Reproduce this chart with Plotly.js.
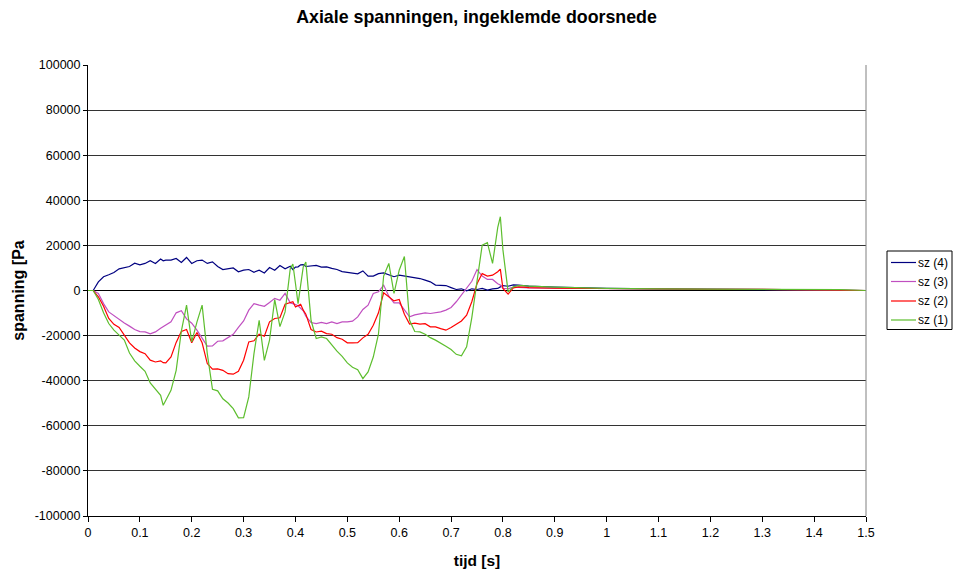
<!DOCTYPE html>
<html>
<head>
<meta charset="utf-8">
<script src="https://cdn.plot.ly/plotly-3.0.1.min.js"></script>
<style>html,body{margin:0;padding:0;background:#fff;}#chart{width:953px;height:573px;}</style>
</head>
<body>
<div id="chart"></div>
<script>
const tijd = [0,0.01,0.02,0.03,0.04,0.05,0.06,0.07,0.08,0.09,0.10,0.11,0.12,0.13,0.14,0.145,0.15,0.16,0.17,0.18,0.19,0.20,0.21,0.22,0.23,0.24,0.25,
  0.26,0.27,0.28,0.29,0.30,0.31,0.32,0.33,0.34,0.35,0.36,0.37,0.38,0.39,0.395,0.40,0.405,0.41,0.415,0.42,0.43,0.44,0.45,0.46,0.47,0.48,0.49,0.50,
  0.51,0.52,0.53,0.54,0.55,0.56,0.57,0.58,0.59,0.60,0.61,0.62,0.63,0.64,0.65,0.66,0.67,0.68,0.69,0.70,0.71,0.72,0.73,0.74,0.75,
  0.76,0.77,0.78,0.79,0.795,0.80,0.81,0.82,0.83,0.84,0.85,0.90,0.95,1.0,1.1,1.2,1.3,1.4,1.45,1.5];

const sz4 = [0,0,3850,6070,6960,8000,9600,10200,10650,12100,11400,12000,13200,12000,14000,13200,13500,13500,14200,12400,14650,12000,13200,13500,12000,12700,10650,
  9300,9800,10000,8300,9000,9300,8100,9000,7800,10200,9000,11100,9600,10800,9300,10400,10500,11400,11500,10650,10950,11100,10400,10500,9800,9300,8400,8100,
  8000,7400,8700,6400,6400,7500,7800,6800,6100,6800,6400,6100,5800,5300,4600,3850,2400,2400,2200,1300,450,750,-150,750,450,
  900,150,750,900,1600,2200,1900,2500,2400,2100,1900,1500,1200,900,700,600,500,400,300,0];

const sz3 = [0,0,-1300,-5800,-9500,-11200,-13000,-14400,-15800,-17300,-18200,-18350,-19200,-18350,-16700,-16000,-15500,-13900,-9900,-9000,-12600,-14500,-17600,-21300,-24700,-24600,-22500,
  -22300,-20900,-19400,-16400,-13500,-8700,-5800,-6500,-7000,-5300,-3500,-4300,-1300,-5500,-5800,-6200,-6800,-8100,-9000,-11400,-14200,-14700,-14100,-14700,-13900,-14700,-13900,-13900,
  -13600,-11700,-8400,-6500,-1300,-600,2400,-2500,-5500,-5500,-8700,-11700,-10800,-10200,-9900,-10200,-9900,-9500,-8700,-7500,-5000,-2100,900,4100,9300,
  6400,4900,4900,3000,2400,1000,750,1500,1300,1300,1200,1000,900,750,600,550,500,400,300,0];

const sz2 = [0,0,-2800,-7000,-12400,-15000,-16400,-20000,-23200,-25500,-27100,-28000,-30900,-31700,-31200,-32000,-32100,-29500,-23000,-18200,-17300,-23200,-18600,-23200,-32400,-34900,-34800,
  -35400,-36900,-37100,-35800,-30900,-22800,-22300,-19400,-20300,-13900,-12400,-12100,-6100,-5500,-5000,-7300,-6500,-6100,-8700,-10500,-17300,-18400,-18000,-19100,-19400,-20900,-21600,-23200,
  -23200,-23100,-21000,-19400,-15400,-9900,-1000,-2800,-4600,-4000,-10500,-14900,-14500,-14900,-14700,-16100,-16100,-16900,-17600,-16400,-14900,-13500,-10950,-5000,3000,
  7500,6400,6800,8300,9500,900,-1600,1200,1600,1500,1300,1000,900,750,600,550,500,400,300,0];

const sz1 = [0,0,-4000,-9900,-14650,-17600,-19800,-22000,-27700,-31200,-33600,-35800,-41000,-43800,-46500,-50900,-48700,-44300,-35400,-18000,-6500,-22800,-14000,-6500,-28000,-43800,-44500,
  -48000,-49900,-52400,-56500,-56400,-47200,-28000,-13200,-31000,-22000,-4000,-16000,-9500,9800,11700,3100,-5800,2400,10500,12600,-13200,-21300,-20600,-21300,-24300,-26900,-29200,-32100,
  -34000,-35100,-39100,-36100,-29500,-19400,6400,12000,-1300,9000,15100,-13200,-18200,-18350,-19400,-20900,-22000,-23200,-24700,-26200,-28300,-29000,-25000,-12000,5000,
  20100,21200,12000,28000,32700,18000,-600,1600,2200,2200,1900,1500,1200,900,700,600,500,450,350,0];

const seriesNames = ['sz (4)', 'sz (3)', 'sz (2)', 'sz (1)'];
const seriesColors = ['#000080', '#C04FC0', '#FF0000', '#5DBE2E'];
const seriesData = [sz4, sz3, sz2, sz1];

const yTickVals = [-100000,-80000,-60000,-40000,-20000,0,20000,40000,60000,80000,100000];
const yTickText = ['-100000','-80000','-60000','-40000','-20000','0','20000','40000','60000','80000','100000'];
const xTickVals = [0,0.1,0.2,0.3,0.4,0.5,0.6,0.7,0.8,0.9,1,1.1,1.2,1.3,1.4,1.5];
const xTickText = ['0','0.1','0.2','0.3','0.4','0.5','0.6','0.7','0.8','0.9','1','1.1','1.2','1.3','1.4','1.5'];

const traces = seriesData.map((d, i) => ({
  x: tijd, y: d, type: 'scatter', mode: 'lines', name: seriesNames[i],
  line: {color: seriesColors[i], width: 1.2}, showlegend: false
}));

// plot area in pixels (for the hand-drawn legend box)
const PL = 88, PR = 866, PT = 65, PB = 516;
const px2x = p => (p - PL) / (PR - PL);
const py2y = p => (PB - p) / (PB - PT);

const font = 'Arial, "Liberation Sans", sans-serif';
const shapes = [
  {type: 'line', xref: 'paper', yref: 'paper', x0: 1, x1: 1, y0: 0, y1: 1, line: {color: '#808080', width: 1}},
  {type: 'rect', xref: 'paper', yref: 'paper', x0: px2x(887), x1: px2x(952), y0: py2y(329.5), y1: py2y(251),
   line: {color: '#000', width: 1}, fillcolor: '#fff'}
];
const annotations = [];
const itemY = [262.5, 281.5, 301, 320];
seriesNames.forEach((n, i) => {
  shapes.push({type: 'line', xref: 'paper', yref: 'paper', x0: px2x(891), x1: px2x(916), y0: py2y(itemY[i]), y1: py2y(itemY[i]),
    line: {color: seriesColors[i], width: 1.2}});
  annotations.push({xref: 'paper', yref: 'paper', x: px2x(916), y: py2y(itemY[i]), xanchor: 'left', yanchor: 'middle',
    text: n, showarrow: false, font: {family: font, size: 12, color: '#000'}});
});

const layout = {
  width: 953, height: 573,
  margin: {l: PL, r: 953 - PR, t: PT, b: 573 - PB, autoexpand: false},
  paper_bgcolor: '#fff', plot_bgcolor: '#fff',
  font: {family: font, size: 11, color: '#000'},
  title: {text: 'Axiale spanningen, ingeklemde doorsnede', font: {family: font, size: 17.8, color: '#000', weight: 'bold'}, x: 0.5, xanchor: 'center', y: 0.97, yanchor: 'middle', yref: 'container'},
  showlegend: false,
  xaxis: {
    range: [0, 1.5], tickmode: 'array', tickvals: xTickVals, ticktext: xTickText,
    showgrid: false, zeroline: false, showline: true, linecolor: '#000', linewidth: 1,
    ticks: 'outside', ticklen: 5, tickcolor: '#000', tickfont: {family: font, size: 12.5, color: '#000'},
    title: {text: 'tijd [s]', font: {family: font, size: 15.5, color: '#000', weight: 'bold'}, standoff: 16}
  },
  yaxis: {
    range: [-100000, 100000], tickmode: 'array', tickvals: yTickVals, ticktext: yTickText,
    showgrid: true, gridcolor: '#333', gridwidth: 1, zeroline: true, zerolinecolor: '#000', zerolinewidth: 1,
    showline: true, linecolor: '#000', linewidth: 1,
    ticks: 'outside', ticklen: 4, tickcolor: '#000', tickfont: {family: font, size: 12.5, color: '#000'},
    title: {text: 'spanning [Pa', font: {family: font, size: 16, color: '#000', weight: 'bold'}, standoff: 6}
  },
  shapes: shapes,
  annotations: annotations,
  hovermode: false
};

Plotly.newPlot('chart', traces, layout, {displayModeBar: false, staticPlot: true});
</script>
</body>
</html>
